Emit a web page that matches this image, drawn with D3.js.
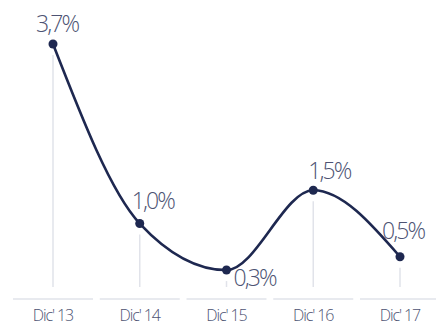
<!DOCTYPE html>
<html>
<head>
<meta charset="utf-8">
<script src="https://cdn.jsdelivr.net/npm/d3@7"></script>
<style>
  html, body { margin: 0; padding: 0; background: #fff; }
  svg { display: block; }
  text { font-family: "Open Sans", "Lato", sans-serif; }
</style>
</head>
<body>
<svg id="chart" width="436" height="327"></svg>
<script>
// Annual rate by December of each year
const categories = ["Dic' 13", "Dic' 14", "Dic' 15", "Dic' 16", "Dic' 17"];
const values = [3.7, 1.0, 0.3, 1.5, 0.5];
const valueLabels = ["3,7%", "1,0%", "0,3%", "1,5%", "0,5%"];
// label placement relative to each point: [dx, dy, anchor]
const labelOffsets = [[4, -12, "middle"], [-8, -15, "start"], [7, 16, "start"], [-5, -11, "start"], [-18, -18, "start"]];

const svg = d3.select("#chart");
const navy = "#1e2850";
const grey = "#e1e3ea";
const textCol = "#4d5373";

const x = d3.scalePoint().domain(categories).range([53, 400]);
const y = d3.scaleLinear().domain([0, 3.7]).range([290, 44]);

const data = categories.map((c, i) => ({ c, v: values[i], label: valueLabels[i], off: labelOffsets[i] }));

// vertical guides
svg.append("g").selectAll("line").data(data).join("line")
  .attr("x1", d => x(d.c)).attr("x2", d => x(d.c))
  .attr("y1", d => y(d.v) + 11).attr("y2", 287)
  .attr("stroke", grey).attr("stroke-width", 1.5);

// baseline segments under each category
const half = 40;
svg.append("g").selectAll("line").data(data).join("line")
  .attr("x1", d => x(d.c) - half).attr("x2", d => x(d.c) + half)
  .attr("y1", 299).attr("y2", 299)
  .attr("stroke", grey).attr("stroke-width", 1.5);

// category labels
svg.append("g").selectAll("text").data(data).join("text")
  .attr("x", d => x(d.c)).attr("y", 321)
  .attr("text-anchor", "middle")
  .attr("font-size", 16).attr("font-weight", 300)
  .attr("letter-spacing", -1.1)
  .attr("fill", textCol)
  .text(d => d.c);

// curve
const line = d3.line().x(d => x(d.c)).y(d => y(d.v)).curve(d3.curveMonotoneX);
svg.append("path").datum(data)
  .attr("d", line)
  .attr("fill", "none").attr("stroke", navy).attr("stroke-width", 2.6);

// points
svg.append("g").selectAll("circle").data(data).join("circle")
  .attr("cx", d => x(d.c)).attr("cy", d => y(d.v)).attr("r", 4.5)
  .attr("fill", navy);

// value labels
svg.append("g").selectAll("text").data(data).join("text")
  .attr("x", d => x(d.c) + d.off[0]).attr("y", d => y(d.v) + d.off[1])
  .attr("text-anchor", d => d.off[2])
  .attr("font-size", 23).attr("font-weight", 300)
  .attr("letter-spacing", -1.9)
  .attr("fill", textCol)
  .text(d => d.label);
</script>
</body>
</html>
